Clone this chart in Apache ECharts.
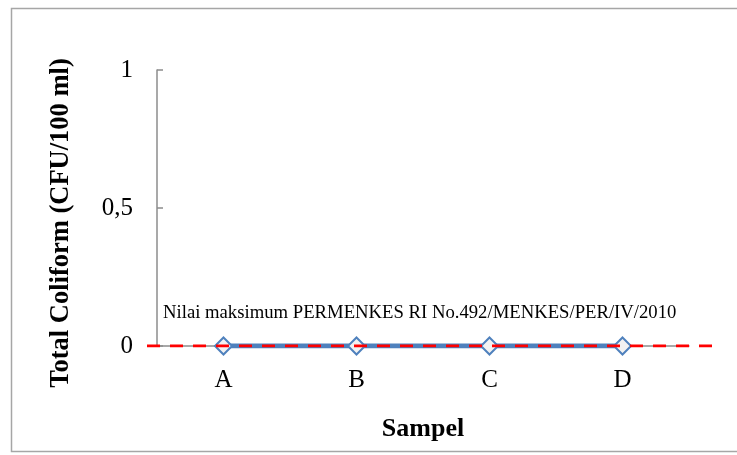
<!DOCTYPE html>
<html>
<head>
<meta charset="utf-8">
<script src="https://cdn.jsdelivr.net/npm/echarts@6/dist/echarts.min.js"></script>
<style>
  html, body { margin: 0; padding: 0; background: #fff; }
  #chart { width: 737px; height: 455px; }
</style>
</head>
<body>
<div id="chart"></div>
<script>
// data
var categories = ['A', 'B', 'C', 'D'];
var coliform = [0, 0, 0, 0];
var yTicks = [0, 0.5, 1];
var limitX = [0, 1];
var limitY = [0, 0];
var limitText = 'Nilai maksimum PERMENKES RI No.492/MENKES/PER/IV/2010';

var serif = 'Liberation Serif';
var chart = echarts.init(document.getElementById('chart'));

chart.setOption({
    animation: false,
    backgroundColor: '#fff',
    grid: [
        { left: 157, right: 48, top: 70, bottom: 109 },
        { left: 147, right: 21, top: 70, bottom: 109 }
    ],
    xAxis: [{
        type: 'category',
        gridIndex: 0,
        data: categories,
        boundaryGap: true,
        name: 'Sampel',
        nameLocation: 'middle',
        nameGap: 70,
        nameTextStyle: { fontFamily: serif, fontSize: 26, fontWeight: 'bold', color: '#000' },
        axisLine: { lineStyle: { color: '#8c8c8c', width: 1.5 } },
        axisTick: { show: false },
        axisLabel: { fontFamily: serif, fontSize: 25, color: '#000', margin: 22 }
    }, {
        type: 'value',
        gridIndex: 1,
        min: 0,
        max: 1,
        show: false
    }],
    yAxis: [{
        type: 'value',
        gridIndex: 0,
        min: 0,
        max: 1,
        interval: 0.5,
        name: 'Total Coliform (CFU/100 ml)',
        nameLocation: 'middle',
        nameGap: 82,
        nameTextStyle: { fontFamily: serif, fontSize: 26.5, fontWeight: 'bold', color: '#000', padding: [0, 30, 0, 0] },
        axisLine: { show: true, lineStyle: { color: '#8c8c8c', width: 1.5 } },
        axisTick: { show: true, inside: true, length: 6, lineStyle: { color: '#8c8c8c', width: 1.5 } },
        splitLine: { show: false },
        axisLabel: {
            fontFamily: serif, fontSize: 25, color: '#000', margin: 24,
            formatter: function (v) {
                return yTicks.indexOf(v) >= 0 ? String(v).replace('.', ',') : '';
            }
        }
    }, {
        type: 'value',
        gridIndex: 1,
        min: 0,
        max: 1,
        show: false
    }],
    series: [{
        type: 'line',
        xAxisIndex: 0,
        yAxisIndex: 0,
        data: coliform,
        symbol: 'diamond',
        symbolSize: 17,
        lineStyle: { color: '#4F81BD', width: 5 },
        itemStyle: { color: '#f2f2f2', borderColor: '#4F81BD', borderWidth: 2 },
        z: 3
    }, {
        type: 'line',
        xAxisIndex: 1,
        yAxisIndex: 1,
        data: limitX.map(function (x, i) { return [x, limitY[i]]; }),
        symbol: 'none',
        lineStyle: { color: '#FF0000', width: 3, type: [13, 10] },
        z: 4
    }],
    graphic: [{
        type: 'rect',
        shape: { x: 11.5, y: 8.5, width: 740, height: 443 },
        style: { fill: 'none', stroke: '#a6a6a6', lineWidth: 1.5 },
        silent: true
    }, {
        type: 'text',
        left: 163,
        top: 304,
        style: { text: limitText, fontFamily: serif, fontSize: 18.7, fill: '#000' }
    }]
});
</script>
</body>
</html>
